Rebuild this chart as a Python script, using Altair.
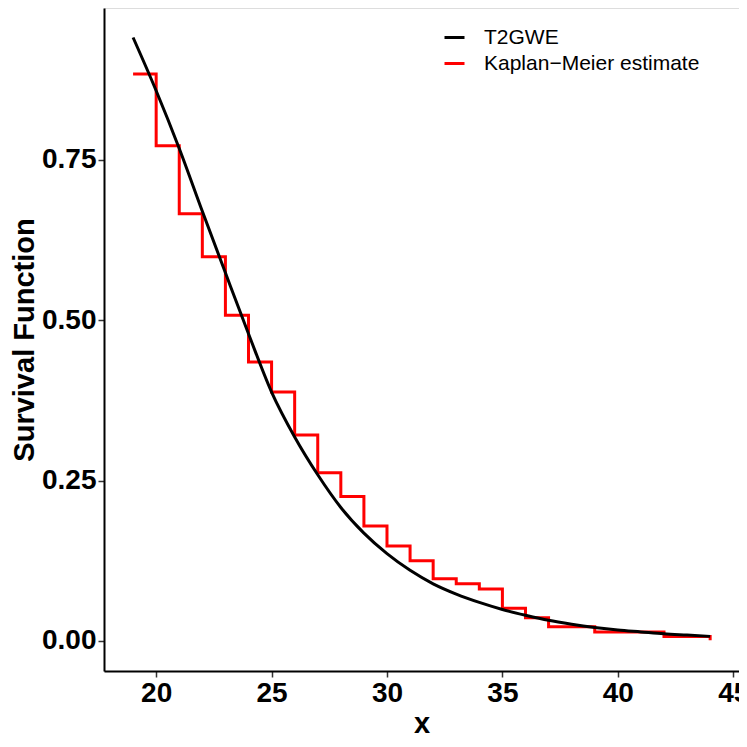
import altair as alt
import pandas as pd

# Fitted T2GWE survival curve (read at integer x)
fit_x = [19, 20, 21, 22, 23, 24, 25, 26, 27, 28, 29, 30, 31, 32, 33, 34, 35,
         36, 37, 38, 39, 40, 41, 42, 43, 44]
fit_y = [0.941, 0.858, 0.768, 0.670, 0.574, 0.479, 0.388, 0.318, 0.259, 0.208,
         0.168, 0.136, 0.110, 0.089, 0.073, 0.060, 0.049, 0.040, 0.032, 0.026,
         0.021, 0.017, 0.014, 0.011, 0.009, 0.007]

# Kaplan-Meier step estimate (change points)
km_x = [19, 20, 21, 22, 23, 24, 25, 26, 27, 28, 29, 30, 31, 32, 33, 34, 35,
        36, 37, 39, 42, 44]
km_y = [0.884, 0.772, 0.666, 0.599, 0.508, 0.435, 0.388, 0.321, 0.262, 0.225,
        0.179, 0.148, 0.125, 0.097, 0.089, 0.081, 0.051, 0.036, 0.022, 0.014,
        0.007, 0.001]

series_names = ["T2GWE", "Kaplan\u2212Meier estimate"]
series_colors = ["#000000", "#FF0000"]

x_ticks = [20, 25, 30, 35, 40, 45]
y_ticks = [0.0, 0.25, 0.5, 0.75]

fit_df = pd.DataFrame({"x": fit_x, "y": fit_y, "series": series_names[0]})
km_df = pd.DataFrame({"x": km_x, "y": km_y, "series": series_names[1]})

FONT = "Liberation Sans"

xscale = alt.Scale(domain=[17.74, 45.25], nice=False, zero=False)
yscale = alt.Scale(domain=[-0.047, 0.987], nice=False, zero=False)
cscale = alt.Scale(domain=series_names, range=series_colors)

xaxis = alt.Axis(values=x_ticks, format="d", title="x", grid=False,
                 labelFont=FONT, labelFontSize=28, labelFontWeight="bold",
                 labelColor="black", labelPadding=2,
                 tickSize=6, tickColor="#333333", tickWidth=1.5,
                 domainColor="black", domainWidth=2,
                 titleFont=FONT, titleFontSize=29, titleFontWeight="bold",
                 titleColor="black", titleBaseline="alphabetic", titleY=61)
yaxis = alt.Axis(values=y_ticks, format=".2f", title="Survival Function", grid=False,
                 labelFont=FONT, labelFontSize=28, labelFontWeight="bold",
                 labelColor="black", labelPadding=2,
                 tickSize=6, tickColor="#333333", tickWidth=1.5,
                 domainColor="black", domainWidth=2,
                 titleFont=FONT, titleFontSize=29, titleFontWeight="bold",
                 titleColor="black", titleBaseline="alphabetic", titleX=-71)

legend = alt.Legend(title=None, orient="none", legendX=339, legendY=18,
                    symbolType="stroke", symbolSize=400, symbolStrokeWidth=3,
                    labelFont=FONT, labelFontSize=21, labelColor="black",
                    labelOffset=18, labelLimit=0, rowPadding=4, padding=0)

km = alt.Chart(km_df).mark_line(interpolate="step-after", strokeWidth=3).encode(
    x=alt.X("x:Q", scale=xscale, axis=xaxis),
    y=alt.Y("y:Q", scale=yscale, axis=yaxis),
    color=alt.Color("series:N", scale=cscale, legend=legend),
)

fit = alt.Chart(fit_df).mark_line(interpolate="monotone", strokeWidth=3).encode(
    x=alt.X("x:Q", scale=xscale),
    y=alt.Y("y:Q", scale=yscale),
    color=alt.Color("series:N", scale=cscale, legend=legend),
)

chart = alt.layer(km, fit).properties(
    width=635, height=663,
    autosize=alt.AutoSizeParams(type="none"),
    padding={"left": 96, "top": 0, "right": 0, "bottom": 68},
).configure_view(stroke="#333333", strokeWidth=1).configure(background="white")

chart.save("out.html", embed_options={"renderer": "svg", "actions": False})
